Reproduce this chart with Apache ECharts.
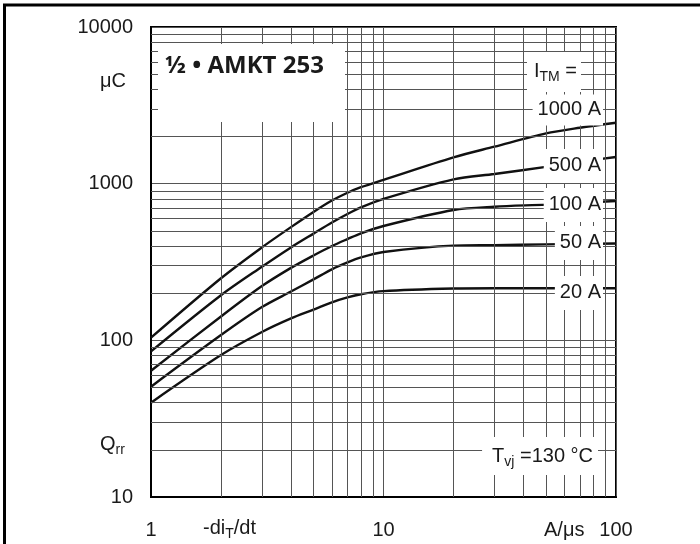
<!DOCTYPE html>
<html>
<head>
<meta charset="utf-8">
<script src="https://cdn.jsdelivr.net/npm/echarts@6/dist/echarts.min.js"></script>
<style>
  html, body { margin: 0; padding: 0; background: #fff; }
  #chart { width: 700px; height: 544px; }
</style>
</head>
<body>
<div id="chart"></div>
<script>
// -di/dt in A/us
const xVals = [1, 2, 3, 4, 5, 6, 7, 8, 10, 20, 30, 50, 70, 100];
// Qrr in uC for each I_TM
const q1000 = [104, 249, 392, 528, 660, 780, 875, 950, 1058, 1472, 1722, 2094, 2275, 2448];
const q500  = [85, 194, 295, 392, 480, 565, 640, 705, 800, 1066, 1153, 1280, 1380, 1480];
const q100  = [64, 142, 222, 290, 348, 400, 443, 482, 537, 679, 713, 735, 755, 775];
const q50   = [50.6, 108, 163, 205, 245, 284, 314, 338, 366, 402, 405, 410, 412, 415];
const q20   = [40, 80.5, 113, 138, 157, 175, 188, 197, 206, 214, 215, 215, 215, 215];
const seriesNames = ['1000 A', '500 A', '100 A', '50 A', '20 A'];
const seriesValues = [q1000, q500, q100, q50, q20];
// grid positions (minor lines of the log grid)
const xMinorGrid = [2, 3, 4, 5, 6, 7, 8, 9, 20, 30, 40, 50, 60, 70, 80, 90];
const yMinorGrid = [20, 30, 40, 50, 60, 70, 80, 90, 200, 300, 400, 500, 600, 700, 800, 900,
                    2000, 3000, 4000, 5000, 6000, 7000, 8000, 9000];

const FONT = "'Liberation Sans', Arial, sans-serif";
const TXT = '#1a1a1a';
const GRID = '#555';

const chart = echarts.init(document.getElementById('chart'), null, { renderer: 'canvas' });

const markData = [];
xMinorGrid.forEach(v => markData.push({ xAxis: v }));
yMinorGrid.forEach(v => markData.push({ yAxis: v }));

const series = [{
  type: 'line',
  data: [[1, 10]],
  symbol: 'none',
  lineStyle: { width: 0, opacity: 0 },
  silent: true,
  z: 1,
  markLine: {
    silent: true,
    symbol: ['none', 'none'],
    label: { show: false },
    lineStyle: { color: GRID, width: 1, type: 'solid' },
    animation: false,
    data: markData
  }
}];
seriesValues.forEach((vals, i) => {
  series.push({
    name: seriesNames[i],
    type: 'line',
    data: xVals.map((x, j) => [x, vals[j]]),
    symbol: 'none',
    smooth: 0.3,
    lineStyle: { color: '#111', width: 2.4 },
    z: 3
  });
});

const mainRich = (size) => ({
  m: { fontSize: size, fontFamily: FONT, fill: TXT, lineHeight: 22, verticalAlign: 'top' },
  s: { fontSize: 14, fontFamily: FONT, fill: TXT, lineHeight: 14, padding: [9, 0, 0, 0], verticalAlign: 'top' }
});

function label(text, x, y, align, pad) {
  return {
    type: 'text', x: x, y: y, z: 100, silent: true,
    style: {
      text: text, rich: mainRich(20),
      font: '20px ' + FONT, fill: TXT,
      textAlign: align, textVerticalAlign: 'middle',
      backgroundColor: pad ? '#fff' : null,
      padding: pad || 0
    }
  };
}

const option = {
  backgroundColor: '#fff',
  animation: false,
  grid: { left: 151, right: 84, top: 27, bottom: 47, show: true, borderColor: '#000', borderWidth: 2, backgroundColor: 'transparent' },
  xAxis: {
    type: 'log', logBase: 10, min: 1, max: 100,
    axisLine: { show: true, lineStyle: { color: '#000', width: 2 } },
    axisTick: { show: false },
    axisLabel: { fontSize: 20, color: TXT, fontFamily: FONT, margin: 23, formatter: v => String(Math.round(v)) },
    splitLine: { show: true, lineStyle: { color: GRID, width: 1 } }
  },
  yAxis: {
    type: 'log', logBase: 10, min: 10, max: 10000,
    axisLine: { show: true, lineStyle: { color: '#000', width: 2 } },
    axisTick: { show: false },
    axisLabel: { fontSize: 20, color: TXT, fontFamily: FONT, margin: 18, formatter: v => String(Math.round(v)) },
    splitLine: { show: true, lineStyle: { color: GRID, width: 1 } }
  },
  series: series,
  graphic: { elements: [
    { type: 'line', z: 100, shape: { x1: 3, y1: 5, x2: 700, y2: 5 }, style: { stroke: '#000', lineWidth: 3 } },
    { type: 'line', z: 100, shape: { x1: 4.5, y1: 4, x2: 4.5, y2: 544 }, style: { stroke: '#000', lineWidth: 3 } },
    { type: 'rect', z: 90, shape: { x: 158, y: 44, width: 187, height: 78 }, style: { fill: '#fff' } },
    { type: 'text', z: 100, x: 165, y: 66, style: { text: '½ • AMKT 253', font: 'bold 24px "Open Sans", sans-serif', fill: TXT, textAlign: 'left', textVerticalAlign: 'middle' } },
    label('{m|μC}', 100, 82, 'left'),
    label('{m|Q}{s|rr}', 100, 445, 'left'),
    label('{m|-di}{s|T}{m|/dt}', 203, 529, 'left'),
    label('{m|A/μs}', 544, 531, 'left'),
    label('{m|I}{s|TM}{m| =}', 581, 72, 'right', [9, 4, 9, 7]),
    label('{m|1000 A}', 603, 110, 'right', [5, 2, 4, 5]),
    label('{m|500 A}', 603, 166, 'right', [6, 2, 6, 5]),
    label('{m|100 A}', 603, 205, 'right', [6, 2, 6, 5]),
    label('{m|50 A}', 603, 243, 'right', [6, 2, 6, 5]),
    label('{m|20 A}', 603, 293, 'right', [6, 2, 6, 5]),
    label('{m|T}{s|vj}{m| =130 °C}', 598, 456, 'right', [9, 5, 7, 10])
  ]}
};
chart.setOption(option);
</script>
</body>
</html>
